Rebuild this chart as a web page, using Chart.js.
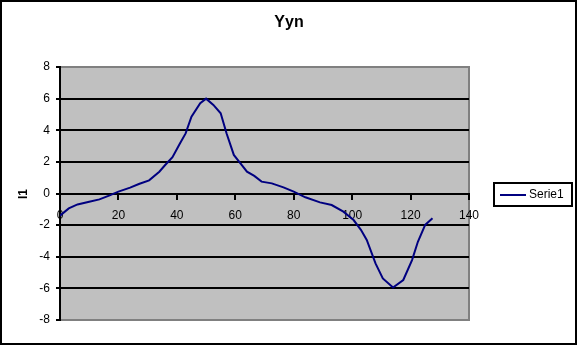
<!DOCTYPE html>
<html>
<head>
<meta charset="utf-8">
<script src="https://cdn.jsdelivr.net/npm/chart.js@4/dist/chart.umd.min.js"></script>
<style>
  html, body { margin: 0; padding: 0; background: #fff; }
  #wrap { width: 577px; height: 345px; }
</style>
</head>
<body>
<div id="wrap"><canvas id="chart" width="577" height="345"></canvas></div>
<script>
// data
const titleText = "Yyn";
const yTitle = "I1";
const seriesName = "Serie1";
const xs = [0, 3, 6, 10, 13.5, 17, 20, 24, 27, 30.5, 34, 36, 38.5, 41, 43, 45, 48, 50, 52.5, 55, 57, 59.5, 61.5, 64, 66.5, 69, 72.5, 76.5, 80, 84, 89, 93, 97, 100.5, 103, 105, 108, 110.5, 114, 117.5, 120.5, 122.5, 125, 127.5];
const ys = [-1.4, -0.94, -0.69, -0.52, -0.37, -0.12, 0.12, 0.37, 0.6, 0.83, 1.38, 1.8, 2.3, 3.15, 3.8, 4.86, 5.71, 6.0, 5.6, 5.07, 3.81, 2.44, 1.97, 1.38, 1.11, 0.75, 0.64, 0.39, 0.12, -0.24, -0.56, -0.73, -1.15, -1.68, -2.3, -2.94, -4.42, -5.37, -5.95, -5.47, -4.21, -3.05, -1.99, -1.57];
const xMin = 0, xMax = 140, xStep = 20;
const yMin = -8, yMax = 8, yStep = 2;

const font = "'Liberation Sans', Arial, sans-serif";

// background, plot area, title, axis title, legend, frame
const decor = {
  id: "decor",
  beforeDraw(chart) {
    const c = chart.ctx, a = chart.chartArea;
    c.save();
    c.fillStyle = "#fff";
    c.fillRect(0, 0, chart.width, chart.height);
    c.fillStyle = "#c0c0c0";
    c.fillRect(a.left, a.top, a.right - a.left, a.bottom - a.top);
    c.strokeStyle = "#808080";
    c.lineWidth = 2;
    c.strokeRect(a.left, a.top, a.right - a.left, a.bottom - a.top);
    c.restore();
  },
  afterDraw(chart) {
    const c = chart.ctx;
    c.save();
    c.fillStyle = "#000";
    c.textAlign = "center";
    c.textBaseline = "middle";
    c.font = "bold 16px " + font;
    c.fillText(titleText, 289, 23);

    c.save();
    c.translate(24, 194);
    c.rotate(-Math.PI / 2);
    c.font = "bold 12px " + font;
    c.fillText(yTitle, 0, 0);
    c.restore();

    // legend
    c.fillStyle = "#fff";
    c.fillRect(494, 183, 78, 23);
    c.strokeStyle = "#000";
    c.lineWidth = 2;
    c.strokeRect(494, 183, 78, 23);
    c.strokeStyle = "#000080";
    c.beginPath();
    c.moveTo(500, 195);
    c.lineTo(526, 195);
    c.stroke();
    c.fillStyle = "#000";
    c.textAlign = "left";
    c.font = "12px " + font;
    c.fillText(chart.data.datasets[0].label, 529, 195);

    // outer frame
    c.strokeStyle = "#000";
    c.lineWidth = 2;
    c.strokeRect(1, 1, chart.width - 2, chart.height - 2);
    c.restore();
  }
};

new Chart(document.getElementById("chart"), {
  type: "scatter",
  data: {
    datasets: [{
      label: seriesName,
      data: xs.map((x, i) => ({ x: x, y: ys[i] })),
      showLine: true,
      borderColor: "#000080",
      borderWidth: 2,
      pointRadius: 0,
      tension: 0
    }]
  },
  options: {
    responsive: false,
    animation: false,
    layout: { padding: { top: 67, bottom: 25, right: 108, left: 0 } },
    plugins: {
      legend: { display: false },
      title: { display: false },
      tooltip: { enabled: false }
    },
    scales: {
      x: {
        type: "linear",
        min: xMin, max: xMax,
        position: { y: 0 },
        ticks: {
          stepSize: xStep,
          color: "#000",
          font: { family: font, size: 12 },
          padding: 10,
          maxRotation: 0
        },
        grid: {
          drawOnChartArea: false,
          drawTicks: true,
          tickLength: 5,
          tickColor: "#000",
          lineWidth: 2
        },
        border: { display: true, color: "#000", width: 2 }
      },
      y: {
        min: yMin, max: yMax,
        afterFit(scale) { scale.width = 60; },
        ticks: {
          stepSize: yStep,
          color: "#000",
          font: { family: font, size: 12 },
          padding: 6
        },
        grid: {
          color: (ctx) => (ctx.tick && (ctx.tick.value === yMin || ctx.tick.value === yMax)) ? "rgba(0,0,0,0)" : "#000",
          tickColor: "#000",
          tickLength: 4,
          lineWidth: 2
        },
        border: { display: true, color: "#000", width: 2 }
      }
    }
  },
  plugins: [decor]
});
</script>
</body>
</html>
